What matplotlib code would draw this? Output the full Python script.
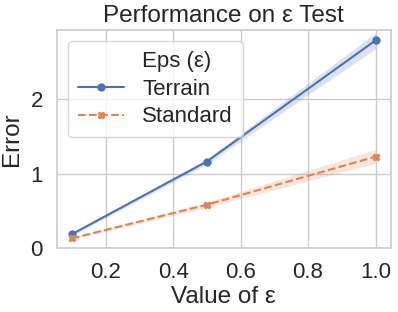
import numpy as np
import matplotlib.pyplot as plt
import seaborn as sns

# data
eps = [0.1, 0.5, 1.0]
terrain_mean = [0.19, 1.165, 2.79]
terrain_lo = [0.17, 1.13, 2.68]
terrain_hi = [0.21, 1.20, 2.89]
standard_mean = [0.134, 0.585, 1.23]
standard_lo = [0.12, 0.55, 1.14]
standard_hi = [0.15, 0.62, 1.33]

sns.set_theme(style="whitegrid")
plt.rcParams['font.family'] = ['Liberation Sans', 'DejaVu Sans']
pal = sns.color_palette()

fig = plt.figure(figsize=(3.98, 3.12), dpi=100)
ax = fig.add_axes([0.1425, 0.204, 0.8392, 0.70])

ax.fill_between(eps, terrain_lo, terrain_hi, color=pal[0], alpha=0.2, lw=0)
ax.fill_between(eps, standard_lo, standard_hi, color=pal[1], alpha=0.2, lw=0)
l1, = ax.plot(eps, terrain_mean, color=pal[0], marker="o", ms=5, lw=1.5)
l2, = ax.plot(eps, standard_mean, color=pal[1], marker="X", ms=5, lw=1.5,
              ls=(0, (3.7, 1.6)))
# seaborn-style legend: the group name is an entry with an empty handle
blank, = ax.plot([], [], color="none")

ax.set_ylim(0, 2.93)
ax.set_yticks([0, 1, 2])
ax.set_xticks([0.2, 0.4, 0.6, 0.8, 1.0])
ax.tick_params(labelsize=16, pad=4)
ax.set_xlabel("Value of ε", fontsize=17.5, labelpad=2)
ax.set_ylabel("Error", fontsize=17.5, labelpad=5)
ax.set_title("Performance on ε Test", fontsize=17.5, pad=6)
ax.legend([blank, l1, l2], ["Eps (ε)", "Terrain", "Standard"], fontsize=16,
          loc="upper left", handlelength=2.1, borderpad=0.45, labelspacing=0.3)

plt.savefig("out.png", dpi=100)
